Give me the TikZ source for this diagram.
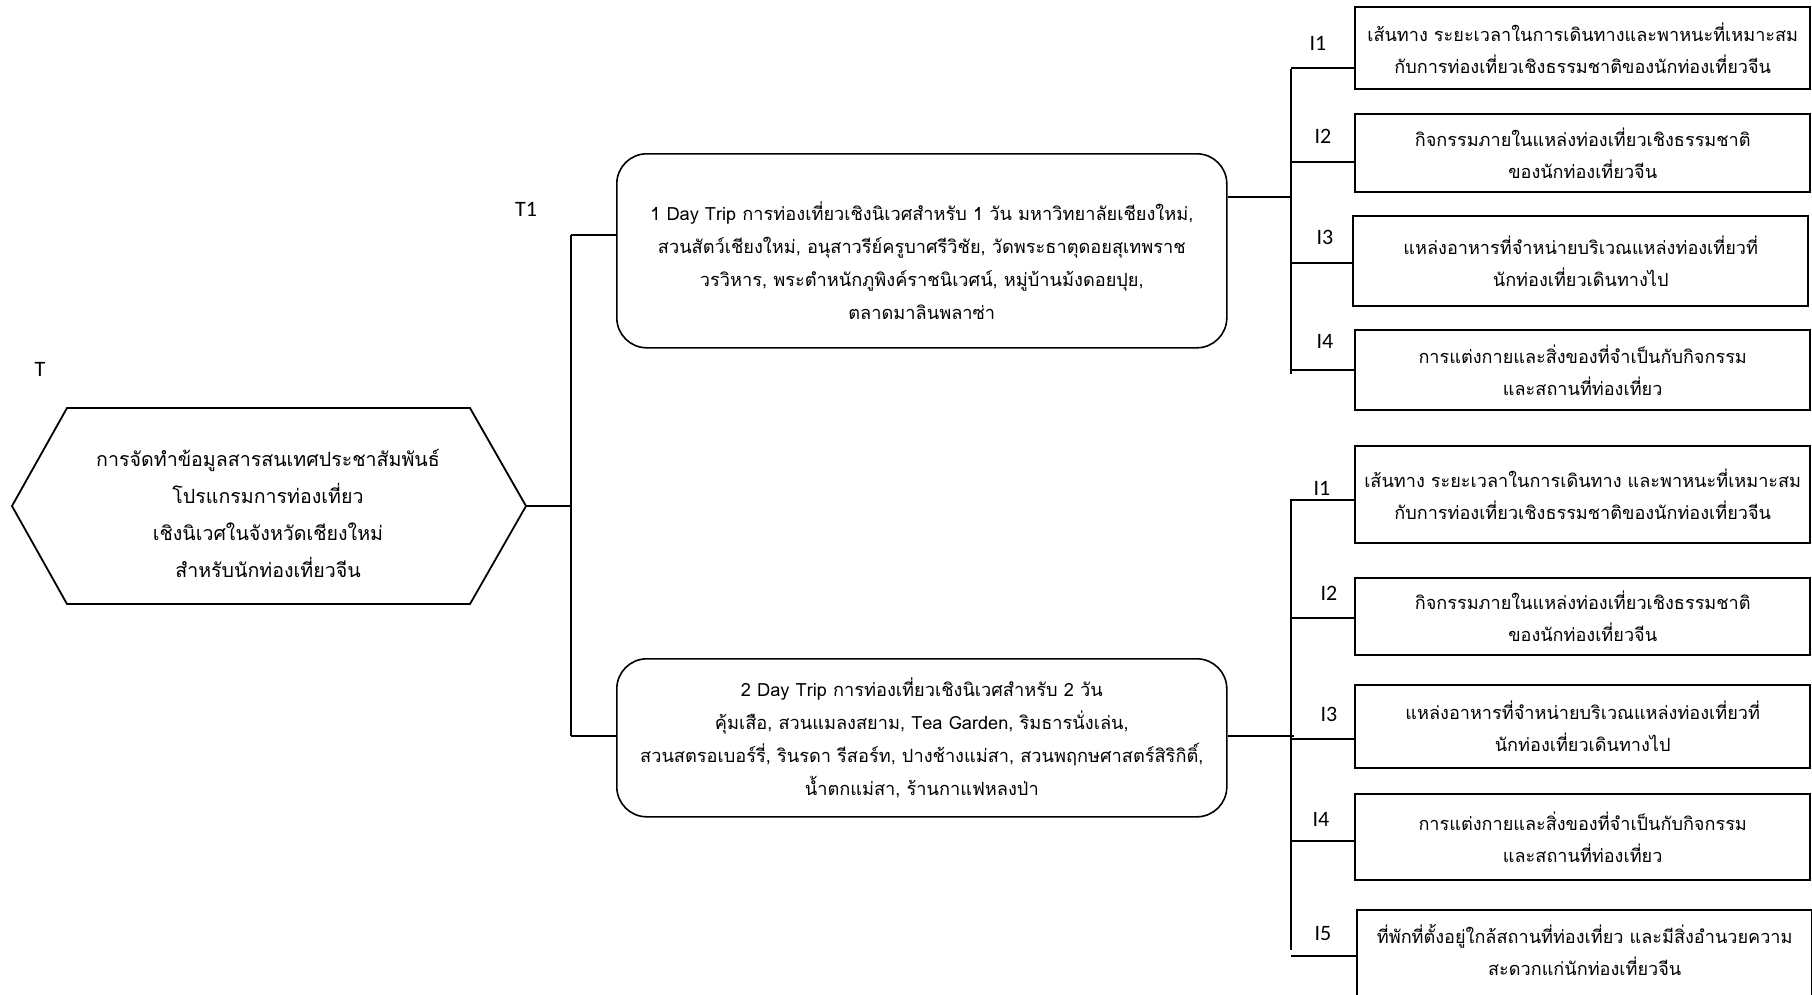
\documentclass[tikz,border=0pt]{standalone}
\usepackage{fontspec}
\setmainfont{Carlito}
\newfontfamily\thai[Script=Thai]{Loma}
\begin{document}
\begin{tikzpicture}[x=1pt,y=-1pt,
  wire/.style={line width=1.4pt},
  tag/.style={font=\fontsize{22}{26}\selectfont, inner sep=0pt},
  topicbox/.style={draw, line width=2.4pt, anchor=north west, inner sep=0pt,
    align=center, minimum width=455pt,
    font=\thai\fontsize{18.1}{32}\selectfont},
  tripbox/.style={draw, line width=1.6pt, rounded corners=30pt, anchor=north west,
    inner sep=0pt, align=center, minimum width=610pt,
    font=\thai\fontsize{18.2}{33}\selectfont},
  hexline/.style={line width=1.8pt, line join=miter}]
\useasboundingbox (0,0) rectangle (1812,994);
\clip (0,0) rectangle (1812,994);

% main topic: hexagon
\draw[hexline] (12,506) -- (67,408) -- (470,408) -- (526,506) -- (470,604) -- (67,604) -- cycle;
\coordinate (hexR) at (526,506);
\node[font=\thai\fontsize{19.6}{37}\selectfont, align=center] (hex) at (268,513)
  {การจัดทำข้อมูลสารสนเทศประชาสัมพันธ์\\โปรแกรมการท่องเที่ยว\\เชิงนิเวศในจังหวัดเชียงใหม่\\สำหรับนักท่องเที่ยวจีน};
\node[tag] (tT) at (40,369) {T};
\node[tag] (tT1) at (526,209) {T1};

% trip boxes (the first one sets its text a little below the middle)
\node[tripbox, minimum height=194pt] (day1) at (616,153)
  {\rule{0pt}{38pt}1 Day Trip การท่องเที่ยวเชิงนิเวศสำหรับ 1 วัน มหาวิทยาลัยเชียงใหม่,\\
   สวนสัตว์เชียงใหม่, อนุสาวรีย์ครูบาศรีวิชัย, วัดพระธาตุดอยสุเทพราช\\
   วรวิหาร, พระตำหนักภูพิงค์ราชนิเวศน์, หมู่บ้านม้งดอยปุย,\\
   ตลาดมาลินพลาซ่า};
\node[tripbox, minimum height=158pt] (day2) at (616,658)
  {2 Day Trip การท่องเที่ยวเชิงนิเวศสำหรับ 2 วัน\\
   คุ้มเสือ, สวนแมลงสยาม, Tea Garden, ริมธารนั่งเล่น,\\
   สวนสตรอเบอร์รี่, รินรดา รีสอร์ท, ปางช้างแม่สา, สวนพฤกษศาสตร์สิริกิติ์,\\
   น้ำตกแม่สา, ร้านกาแฟหลงป่า};

% topics of the one-day trip
\node[topicbox, minimum height=82pt] (a1) at (1354,6)
  {เส้นทาง ระยะเวลาในการเดินทางและพาหนะที่เหมาะสม\\กับการท่องเที่ยวเชิงธรรมชาติของนักท่องเที่ยวจีน};
\node[topicbox, minimum height=78pt] (a2) at (1354,113)
  {กิจกรรมภายในแหล่งท่องเที่ยวเชิงธรรมชาติ\\ของนักท่องเที่ยวจีน};
\node[topicbox, minimum height=90pt] (a3) at (1352,215)
  {แหล่งอาหารที่จำหน่ายบริเวณแหล่งท่องเที่ยวที่\\นักท่องเที่ยวเดินทางไป};
\node[topicbox, minimum height=80pt] (a4) at (1354,329)
  {การแต่งกายและสิ่งของที่จำเป็นกับกิจกรรม\\และสถานที่ท่องเที่ยว};

% topics of the two-day trip
\node[topicbox, minimum height=97pt] (b1) at (1354,445)
  {เส้นทาง ระยะเวลาในการเดินทาง และพาหนะที่เหมาะสม\\กับการท่องเที่ยวเชิงธรรมชาติของนักท่องเที่ยวจีน};
\node[topicbox, minimum height=77pt] (b2) at (1354,577)
  {กิจกรรมภายในแหล่งท่องเที่ยวเชิงธรรมชาติ\\ของนักท่องเที่ยวจีน};
\node[topicbox, minimum height=83pt] (b3) at (1354,684)
  {แหล่งอาหารที่จำหน่ายบริเวณแหล่งท่องเที่ยวที่\\นักท่องเที่ยวเดินทางไป};
\node[topicbox, minimum height=86pt] (b4) at (1354,793)
  {การแต่งกายและสิ่งของที่จำเป็นกับกิจกรรม\\และสถานที่ท่องเที่ยว};
\node[topicbox, minimum height=120pt, text depth=40pt] (b5) at (1356,909)
  {ที่พักที่ตั้งอยู่ใกล้สถานที่ท่องเที่ยว และมีสิ่งอำนวยความ\\สะดวกแก่นักท่องเที่ยวจีน};

% item labels
\node[tag] (la1) at (1318,43) {I1};
\node[tag] (la2) at (1323,136) {I2};
\node[tag] (la3) at (1325,237) {I3};
\node[tag] (la4) at (1325,341) {I4};
\node[tag] (lb1) at (1322,488) {I1};
\node[tag] (lb2) at (1329,593) {I2};
\node[tag] (lb3) at (1329,714) {I3};
\node[tag] (lb4) at (1321,819) {I4};
\node[tag] (lb5) at (1323,934) {I5};

% bus lines
\coordinate (s0t) at (571,235);
\coordinate (s0b) at (571,736);
\draw[wire] (hexR) -- (hexR -| s0t);
\draw[wire] (s0t) -- (s0b);
\draw[wire] (s0t) -- (s0t -| day1.west);
\draw[wire] (s0b) -- (s0b -| day2.west);

\coordinate (s1t) at (1291,69);
\coordinate (s1b) at (1291,374);
\coordinate (s1j) at (1291,197);
\draw[wire] (s1t) -- (s1b);
\draw[wire] (s1j -| day1.east) -- (s1j);
\foreach \n/\y in {a1/68,a2/162,a3/263,a4/370}
  \draw[wire] (1291,\y) -- (1291,\y -| \n.west);

\coordinate (s2t) at (1291,499);
\coordinate (s2b) at (1291,950);
\coordinate (s2j) at (1294,736);
\draw[wire] (s2t) -- (s2b);
\draw[wire] (s2j -| day2.east) -- (s2j);
\foreach \n/\y in {b1/500,b2/618,b3/739,b4/841,b5/956}
  \draw[wire] (1291,\y) -- (1291,\y -| \n.west);
\end{tikzpicture}
\end{document}
